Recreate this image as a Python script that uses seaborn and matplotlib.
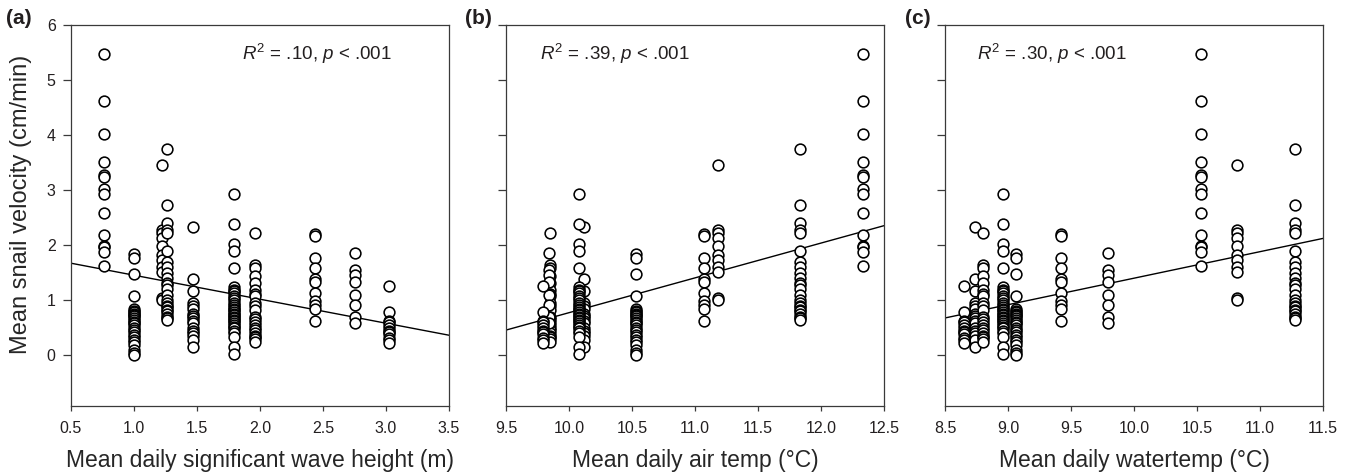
import numpy as np
import pandas as pd
import matplotlib as mpl
mpl.use('Agg')
import matplotlib.pyplot as plt
import seaborn as sns

# one entry per sampling day: wave height, air temp, water temp, snail velocities
wave_height = [0.76, 1.00, 1.22, 1.26, 1.47, 1.79, 1.96, 2.44, 2.75, 3.02]
air_temp = [12.33, 10.53, 11.18, 11.83, 10.12, 10.08, 9.85, 11.07, 9.84, 9.79]
water_temp = [10.53, 9.06, 10.82, 11.28, 8.74, 8.96, 8.80, 9.42, 9.79, 8.65]
velocity = [
    [5.47, 4.62, 4.02, 3.52, 3.27, 3.24, 3.03, 2.93, 2.58, 2.19, 1.99, 1.96, 1.88, 1.62],
    [1.84, 1.77, 1.47, 1.07, 0.85, 0.81, 0.78, 0.76, 0.74, 0.71, 0.67, 0.64, 0.61, 0.58,
     0.55, 0.50, 0.46, 0.42, 0.37, 0.33, 0.28, 0.24, 0.19, 0.10, 0.04, 0.00],
    [3.45, 2.28, 2.22, 2.13, 1.98, 1.82, 1.73, 1.60, 1.52, 1.04, 1.01],
    [3.75, 2.73, 2.41, 2.28, 2.22, 1.90, 1.70, 1.61, 1.49, 1.40, 1.31, 1.28, 1.20, 1.10,
     1.01, 0.95, 0.90, 0.88, 0.82, 0.80, 0.75, 0.70, 0.68, 0.64],
    [2.33, 1.38, 1.17, 0.95, 0.90, 0.85, 0.76, 0.72, 0.67, 0.62, 0.58, 0.49, 0.45, 0.40,
     0.35, 0.28, 0.16],
    [2.93, 2.39, 2.02, 1.90, 1.58, 1.25, 1.19, 1.16, 1.13, 1.07, 1.04, 1.01, 0.95, 0.92,
     0.88, 0.85, 0.82, 0.79, 0.76, 0.73, 0.70, 0.67, 0.64, 0.62, 0.58, 0.55, 0.52, 0.49,
     0.45, 0.40, 0.34, 0.16, 0.02],
    [2.22, 1.64, 1.58, 1.44, 1.31, 1.19, 1.12, 1.07, 0.95, 0.90, 0.82, 0.70, 0.66, 0.61,
     0.55, 0.50, 0.46, 0.40, 0.36, 0.34, 0.30, 0.25],
    [2.20, 2.16, 1.76, 1.58, 1.38, 1.34, 1.13, 0.98, 0.92, 0.85, 0.63],
    [1.85, 1.55, 1.46, 1.34, 1.10, 0.92, 0.70, 0.58],
    [1.26, 0.78, 0.63, 0.60, 0.55, 0.50, 0.45, 0.42, 0.38, 0.31, 0.28, 0.22],
]

panel_cols = ['wave', 'air', 'water']
panel_tags = ['(a)', '(b)', '(c)']
x_labels = ['Mean daily significant wave height (m)',
            'Mean daily air temp (°C)',
            'Mean daily watertemp (°C)']
x_limits = [(0.5, 3.5), (9.5, 12.5), (8.5, 11.5)]
stats_text = [r'$R^{\mathrm{2}}$ = .10, $p$ < .001',
              r'$R^{\mathrm{2}}$ = .39, $p$ < .001',
              r'$R^{\mathrm{2}}$ = .30, $p$ < .001']
stats_x = [0.452, 0.090, 0.085]

rows = []
for w, a, t, vals in zip(wave_height, air_temp, water_temp, velocity):
    for v in vals:
        rows.append({'wave': w, 'air': a, 'water': t, 'velocity': v})
df = pd.DataFrame(rows)

sns.set_style('ticks')
plt.rcParams.update({
    'font.family': ['Liberation Sans', 'DejaVu Sans'],
    'mathtext.fontset': 'custom',
    'mathtext.rm': 'Liberation Sans',
    'mathtext.it': 'Liberation Sans:italic',
    'axes.edgecolor': '#3a3a3a',
    'axes.linewidth': 0.9,
    'text.color': '#231f20',
    'xtick.color': '#3a3a3a',
    'ytick.color': '#3a3a3a',
    'xtick.labelcolor': '#231f20',
    'ytick.labelcolor': '#231f20',
})

W, H = 1355, 476
fig = plt.figure(figsize=(W / 100, H / 100), dpi=100)
lefts = [71, 506, 945]
axes = [fig.add_axes([l / W, 70 / H, 378 / W, 381 / H]) for l in lefts]

for i, ax in enumerate(axes):
    col = panel_cols[i]
    sub = df.dropna(subset=[col])
    ax.set_xlim(*x_limits[i])
    ax.set_ylim(-0.92, 6)
    sns.scatterplot(data=sub, x=col, y='velocity', ax=ax, s=60,
                    facecolor='white', edgecolor='black', linewidth=1.15,
                    zorder=3, legend=False)
    # fitted line spans the full axis width, as in the original
    sns.regplot(data=sub, x=col, y='velocity', ax=ax, scatter=False, ci=None,
                truncate=False, color='black', line_kws={'linewidth': 1.0, 'zorder': 2})
    ax.set_xlim(*x_limits[i])
    ax.set_ylim(-0.92, 6)
    ax.set_xticks(np.arange(x_limits[i][0], x_limits[i][1] + 0.01, 0.5))
    ax.set_xticklabels([f'{t:.1f}' for t in ax.get_xticks()])
    ax.set_yticks(range(0, 7))
    ax.tick_params(axis='x', length=3.5, width=0.9, labelsize=11.5, pad=7)
    ax.tick_params(axis='y', length=6, width=0.9, labelsize=11.5, pad=5)
    if i > 0:
        ax.tick_params(axis='y', labelleft=False)
        ax.set_ylabel('')
    else:
        ax.set_ylabel('Mean snail velocity (cm/min)', fontsize=17)
        ax.yaxis.set_label_coords(-0.103, 0.53)
    ax.set_xlabel(x_labels[i], fontsize=16.5, labelpad=10)
    ax.text(stats_x[i], 0.925, stats_text[i], transform=ax.transAxes,
            fontsize=13.5, ha='left', va='center')

tag_right = [32, 492, 931]
for tag, xr in zip(panel_tags, tag_right):
    fig.text(xr / W, 1 - 18 / H, tag, fontsize=15, fontweight='bold',
             ha='right', va='center')

fig.savefig('out.png', dpi=100, facecolor='white')
